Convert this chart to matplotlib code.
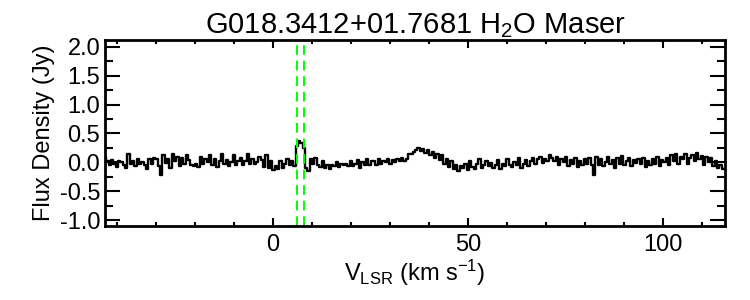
import numpy as np
import matplotlib
matplotlib.use("Agg")
import matplotlib.pyplot as plt
from matplotlib.ticker import MultipleLocator

plt.rcParams['font.family'] = ['Liberation Sans', 'DejaVu Sans']
plt.rcParams['mathtext.default'] = 'regular'

title = "G018.3412+01.7681 H$_2$O Maser"
xlabel = "V$_{LSR}$ (km s$^{-1}$)"
ylabel = "Flux Density (Jy)"

v_start = -43.0      # km/s, first channel
chan_width = 0.6     # km/s
maser_lines = [6.1, 8.1]

flux_a = [0.10, 0.02, -0.05, 0.04, -0.02, -0.08, 0.03, 0.01, -0.04, -0.10,
          0.15, -0.03, 0.02, -0.06, 0.05, -0.02, 0.00, -0.05, -0.12, 0.05,
          -0.03, 0.08, 0.06, -0.07, -0.22, 0.12, -0.01, 0.05, -0.09, 0.14,
          0.03, 0.10, -0.06, 0.08, -0.02, 0.12, 0.04, -0.04, -0.06]
flux_b = [-0.03, -0.08, 0.10, -0.02, 0.05, 0.00, 0.12, -0.04, 0.06, -0.08,
          0.02, 0.14, -0.02, 0.04, -0.06, 0.00, 0.12, -0.05, 0.03, 0.07,
          -0.04, 0.02, 0.15, -0.03, 0.05, -0.02, 0.01, 0.10, 0.04, -0.08,
          0.12, -0.10, 0.02, -0.14, -0.06, -0.12, 0.03, -0.09]
flux_c = [-0.02, 0.05, -0.04, 0.03, -0.06, 0.28, 0.37, 0.34, 0.25, -0.10,
          -0.15, 0.05, -0.03, 0.08, -0.05, -0.08, 0.02, -0.10, -0.05, -0.12,
          -0.04, -0.06, 0.00, -0.08, -0.03, -0.05, -0.02, -0.07, 0.02, -0.06,
          -0.03, 0.04, -0.09, 0.01, -0.04, 0.06, -0.05, 0.03]
flux_d = [0.02, -0.04, 0.05, -0.02, 0.03, 0.00, 0.06, -0.03, 0.04, 0.01,
          0.05, 0.02, 0.07, 0.03, 0.06, 0.15, 0.14, 0.18, 0.22, 0.25,
          0.20, 0.23, 0.17, 0.21, 0.12, 0.18, 0.08, 0.15, 0.04, 0.12,
          -0.02, 0.06, -0.08, 0.02, -0.12, -0.04, -0.15, -0.06]
flux_e = [-0.10, -0.02, -0.14, 0.02, -0.08, -0.12, -0.03, 0.05, -0.10, -0.04,
          0.03, -0.06, -0.01, -0.09, -0.05, 0.04, -0.12, -0.02, -0.07, 0.06,
          -0.04, -0.08, 0.00, -0.05, 0.08, -0.10, -0.03, 0.04, -0.06, 0.02,
          0.07, -0.02, 0.05, 0.10, -0.01, 0.06, 0.03, 0.12]
flux_f = [0.08, 0.02, 0.10, -0.04, 0.06, 0.00, 0.09, -0.06, 0.04, -0.02,
          0.07, -0.08, 0.03, -0.05, 0.05, -0.03, 0.08, -0.05, -0.22, 0.10,
          -0.04, 0.06, -0.07, 0.01, 0.09, -0.02, 0.04, -0.10, 0.07, -0.03,
          0.11, -0.05, 0.02, 0.08, -0.06, 0.04, -0.01, 0.06]
flux_g = [-0.03, 0.07, -0.08, 0.03, -0.05, 0.05, -0.02, 0.09, -0.06, 0.04,
          0.00, 0.08, -0.04, 0.12, 0.02, 0.15, -0.03, 0.10, 0.05, 0.14,
          -0.02, 0.08, 0.13, 0.03, 0.16, 0.06, 0.11, -0.04, 0.09, 0.01,
          0.07, -0.06, 0.03, -0.10, -0.05, -0.12]

flux = np.array(flux_a + flux_b + flux_c + flux_d + flux_e + flux_f + flux_g)
vel = v_start + chan_width * np.arange(len(flux))

fig = plt.figure(figsize=(7.5, 3.0), dpi=100)
ax = fig.add_axes([0.14, 0.247, 0.827, 0.62])

ax.step(vel, flux, where='mid', color='black', lw=1.7)
for xv in maser_lines:
    ax.axvline(xv, color='#00ff00', lw=1.4, ls=(0, (5, 3)))

ax.set_xlim(-43, 116)
ax.set_ylim(-1.1, 2.12)
ax.xaxis.set_major_locator(MultipleLocator(50))
ax.xaxis.set_minor_locator(MultipleLocator(10))
ax.yaxis.set_major_locator(MultipleLocator(0.5))
ax.yaxis.set_minor_locator(MultipleLocator(0.25))
ax.yaxis.set_major_formatter(matplotlib.ticker.FormatStrFormatter('%.1f'))

ax.tick_params(which='both', direction='in', top=True, right=True, labelsize=17, width=1.5)
ax.tick_params(axis='y', which='major', length=11)
ax.tick_params(axis='y', which='minor', length=6)
ax.tick_params(axis='x', which='major', length=6)
ax.tick_params(axis='x', which='minor', length=3)
ax.tick_params(axis='x', pad=6)
for s in ax.spines.values():
    s.set_linewidth(2)

ax.set_title(title, fontsize=21, pad=5)
ax.set_xlabel(xlabel, fontsize=17, labelpad=1)
ax.set_ylabel(ylabel, fontsize=17, labelpad=3)

fig.savefig("out.png", dpi=100)
